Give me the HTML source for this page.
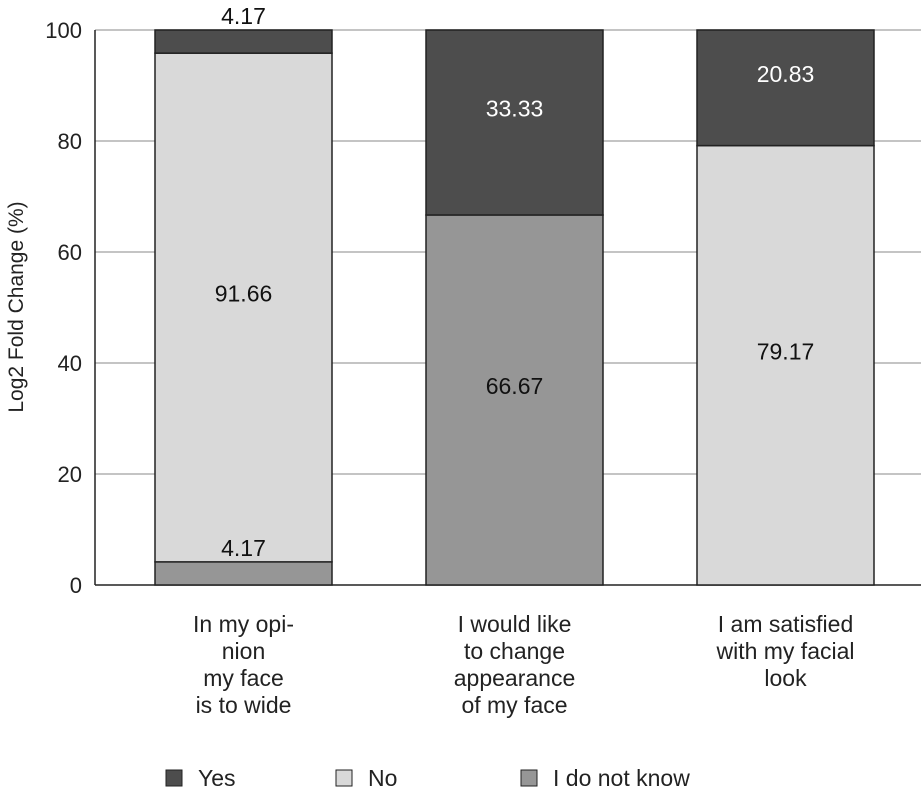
<!DOCTYPE html>
<html><head><meta charset="utf-8"><style>
body{margin:0;background:#fff;}
svg{display:block;font-family:"Liberation Sans",sans-serif;}
</style></head><body>
<svg id="chart" width="921" height="791" viewBox="0 0 921 791"></svg>
<script>
const categories = [["In my opi-","nion","my face","is to wide"],["I would like","to change","appearance","of my face"],["I am satisfied","with my facial","look"]];
const dontKnow = [4.17, 66.67, 0];
const no = [91.66, 0, 79.17];
const yes = [4.17, 33.33, 20.83];
const yTicks = [0,20,40,60,80,100];
const seriesNames = ["Yes","No","I do not know"];

const NS="http://www.w3.org/2000/svg";
const svg=document.getElementById('chart');
const x0=95,x1=921,yTop=30,yBot=585;
const y=v=>yBot-(yBot-yTop)*v/100;
const barW=177;
const firstX=155, step=271;
const bx=i=>firstX+step*i;
function el(t,a,txt){const e=document.createElementNS(NS,t);for(const k in a)e.setAttribute(k,a[k]);if(txt!==undefined)e.textContent=txt;svg.appendChild(e);return e;}

yTicks.forEach(t=>{
  if(t>0){const g=el('line',{x1:x0,x2:x1,y1:y(t),y2:y(t),stroke:'#b0b0b0','stroke-width':1.5});
  
  }
  const l=el('text',{x:82,y:y(t)+8,'text-anchor':'end','font-size':22,fill:'#222'},t);
  
  
});
const ya=el('line',{x1:x0,x2:x0,y1:yTop,y2:yBot,stroke:'#222','stroke-width':1.5});


const xa=el('line',{x1:x0,x2:x1,y1:yBot,y2:yBot,stroke:'#222','stroke-width':1.5});


const yt=el('text',{x:0,y:0,transform:'translate(23,307) rotate(-90)','text-anchor':'middle','font-size':21,fill:'#222'},'Log2 Fold Change (%)');



const series=[[dontKnow,'#969696','#111','dont-know'],[no,'#d9d9d9','#111','no'],[yes,'#4d4d4d','#fff','yes']];
const labels=[];
categories.forEach((c,i)=>{
  let base=0;
  series.forEach(([arr,col,tc,nm])=>{
    const v=arr[i];
    if(v>0){
      const r=el('rect',{x:bx(i),y:y(base+v),width:barW,height:y(base)-y(base+v),fill:col,stroke:'#222','stroke-width':1.5});
      
      
      let ty,fc=tc;
      if(v<10){ty=y(base+v)-6;fc='#111';}else ty=(y(base)+y(base+v))/2-6;
      labels.push([bx(i)+barW/2,ty,fc,v,nm,i]);
    }
    base+=v;
  });
  c.forEach((line,k)=>{
    const t=el('text',{x:bx(i)+barW/2,y:632+k*27,'text-anchor':'middle','font-size':23,fill:'#222'},line);
    
    
  });
});
labels.forEach(([lx,ly,fc,v,nm,i])=>{
  const t=el('text',{x:lx,y:ly,'text-anchor':'middle','font-size':23,fill:fc},v.toFixed(2));
  
  
});
const legCols=['#4d4d4d','#d9d9d9','#969696'];
const legX=[166,336,521];
seriesNames.forEach((n,i)=>{
  const r=el('rect',{x:legX[i],y:770,width:16,height:16,fill:legCols[i],stroke:'#222','stroke-width':1});
  
  
  const t=el('text',{x:legX[i]+32,y:786,'font-size':23,fill:'#222'},n);
  
  
});
</script>
</body></html>
